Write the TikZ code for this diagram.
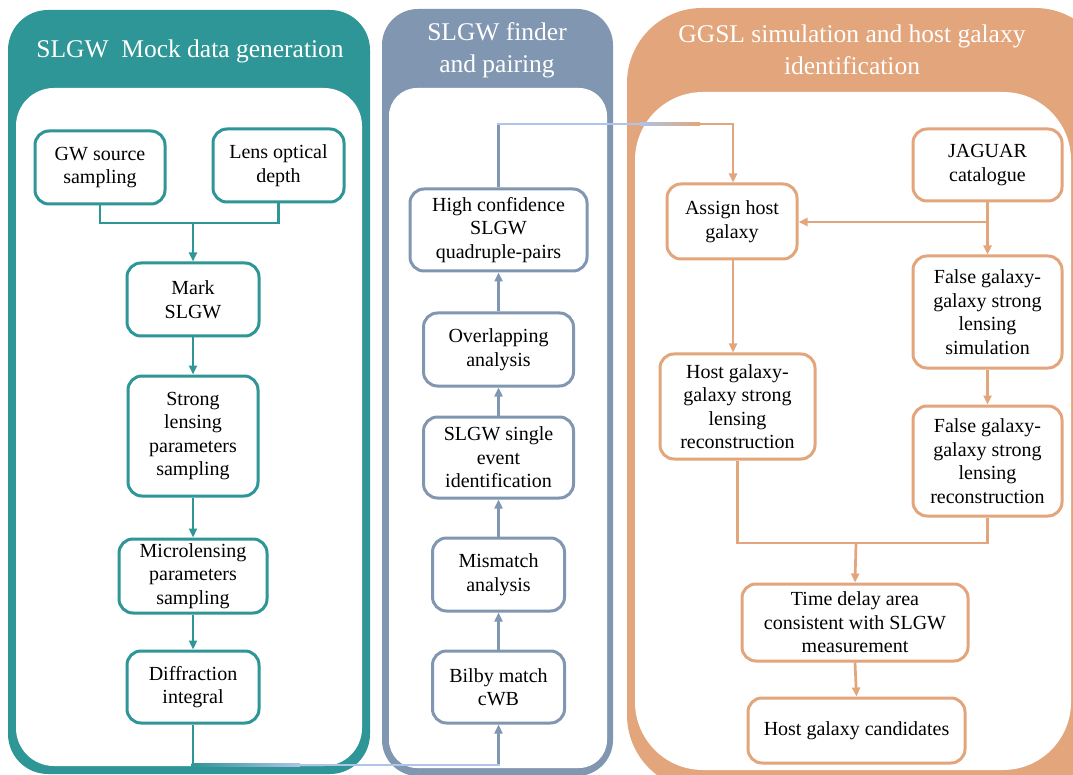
\documentclass[tikz,border=0pt]{standalone}
\usepackage{fontspec}
\setmainfont{Liberation Serif}
\usetikzlibrary{arrows.meta}

\definecolor{tealc}{HTML}{2E9696}
\definecolor{slatec}{HTML}{8197B1}
\definecolor{orangec}{HTML}{E3A57B}
\definecolor{lightblue}{HTML}{AEC4E8}

\tikzset{
  flowbox/.style={rounded corners=14pt, line width=3pt, fill=white, align=center,
    inner sep=0pt, font=\fontsize{20}{23.5}\selectfont},
  tbox/.style={flowbox, draw=tealc},
  sbox/.style={flowbox, draw=slatec},
  obox/.style={flowbox, draw=orangec},
  tip/.style={-{Triangle[length=9pt,width=8pt]}},
  tline/.style={draw=tealc, line width=2.7pt},
  sline/.style={draw=slatec, line width=2.7pt},
  oline/.style={draw=orangec, line width=2.7pt},
  paneltitle/.style={text=white, align=center, font=\fontsize{25.5}{32}\selectfont},
}

\begin{document}
\begin{tikzpicture}[x=1pt, y=-1pt]
\useasboundingbox (0,0) rectangle (1073,775);

% ---- panel frames ----
\fill[tealc, rounded corners=40pt] (8,10) rectangle (370,774);
\fill[white, rounded corners=38pt] (16,88) rectangle (362,766);

\fill[slatec, rounded corners=36pt] (382,9) rectangle (613,776);
\fill[white, rounded corners=28pt] (389,88) rectangle (607,768);

\fill[orangec, rounded corners=75pt] (627,8) rectangle (1110,790);
\fill[white, rounded corners=68pt] (635,92) rectangle (1071,770);

% ---- panel titles ----
\node[paneltitle] (t1) at (190,51) {SLGW\ \ Mock data generation};
\node[paneltitle] (t2) at (497,50) {SLGW finder\\and pairing};
\node[paneltitle] (t3) at (852,50) {GGSL simulation and host galaxy\\identification};

% ---- mock data generation ----
\node[tbox, minimum width=130pt, minimum height=73pt] (gw) at (100,167.5) {GW source\\sampling};
\node[tbox, minimum width=131pt, minimum height=73pt] (lens) at (278.5,165.5) {Lens optical\\depth};
\node[tbox, minimum width=132pt, minimum height=73pt] (mark) at (193,299.5) {Mark\\SLGW};
\node[tbox, minimum width=130pt, minimum height=120pt] (strong) at (193,436) {Strong\\lensing\\parameters\\sampling};
\node[tbox, minimum width=148pt, minimum height=74pt] (micro) at (193,576) {Microlensing\\parameters\\sampling};
\node[tbox, minimum width=132pt, minimum height=72pt] (diff) at (193,687) {Diffraction\\integral};

\coordinate (j1) at (193,223);
\draw[tline] (gw.south) |- (j1) -| (lens.south);
\draw[tline, tip] (j1) -- (mark.north);
\draw[tline, tip] (mark.south) -- (strong.north);
\draw[tline, tip] (strong.south) -- (micro.north);
\draw[tline, tip] (micro.south) -- (diff.north);

% ---- finder and pairing ----
\node[sbox, minimum width=177pt, minimum height=82pt] (hc) at (498.5,230) {High confidence\\SLGW\\quadruple-pairs};
\node[sbox, minimum width=150pt, minimum height=73pt] (ov) at (498.5,349.5) {Overlapping\\analysis};
\node[sbox, minimum width=150pt, minimum height=81pt] (se) at (498.5,457.5) {SLGW single\\event\\identification};
\node[sbox, minimum width=132pt, minimum height=73pt] (mm) at (498.5,574.5) {Mismatch\\analysis};
\node[sbox, minimum width=132pt, minimum height=72pt] (bb) at (498.5,687) {Bilby match\\cWB};

\draw[sline, tip] (bb.north) -- (mm.south);
\draw[sline, tip] (mm.north) -- (se.south);
\draw[sline, tip] (se.north) -- (ov.south);
\draw[sline, tip] (ov.north) -- (hc.south);

% ---- hand-over from mock data to finder ----
\coordinate (d1) at (193,765);
\coordinate (b1) at (498.5,765);
\draw[tline] (diff.south) -- ([yshift=1.35pt]d1);
\shade[left color=tealc, right color=lightblue] ([xshift=-1.35pt,yshift=-1.35pt]d1) rectangle ([yshift=1.35pt]300,765);
\fill[lightblue] ([yshift=-1.35pt]300,765) rectangle ([xshift=1.35pt,yshift=1.35pt]b1);
\draw[sline, tip] ([yshift=1.35pt]b1) -- (bb.south);

% ---- GGSL simulation and host galaxy identification ----
\node[obox, minimum width=130pt, minimum height=75pt] (assign) at (732,221.5) {Assign host\\galaxy};
\node[obox, minimum width=149pt, minimum height=72pt] (jag) at (987.5,165) {JAGUAR\\catalogue};
\node[obox, minimum width=149pt, minimum height=112pt] (fsim) at (987.5,312) {False galaxy-\\galaxy strong\\lensing\\simulation};
\node[obox, minimum width=155pt, minimum height=105pt] (hgg) at (737.5,406.5) {Host galaxy-\\galaxy strong\\lensing\\reconstruction};
\node[obox, minimum width=149pt, minimum height=110pt] (frec) at (987.5,461) {False galaxy-\\galaxy strong\\lensing\\reconstruction};
\node[obox, minimum width=226pt, minimum height=77pt] (td) at (855,622.5) {Time delay area\\consistent with SLGW\\measurement};
\node[obox, minimum width=217pt, minimum height=65pt] (cand) at (856.5,730.5) {Host galaxy candidates};

% ---- hand-over from finder to host galaxy search ----
\coordinate (h1) at (498.5,124);
\coordinate (a1) at (733,124);
\draw[sline] (hc.north) -- ([yshift=-1.35pt]h1);
\fill[lightblue] ([xshift=-1.35pt,yshift=-1.35pt]h1) rectangle ([yshift=1.35pt]640,124);
\shade[left color=lightblue, right color=orangec] ([yshift=-1.35pt]640,124) rectangle ([yshift=1.35pt]700,124);
\fill[orangec] ([yshift=-1.35pt]700,124) rectangle ([xshift=1.35pt,yshift=1.35pt]a1);
\draw[oline, tip] ([yshift=-1.35pt]a1) -- (a1 |- assign.north);

\coordinate (jb) at (987.5,222);
\draw[oline, tip] (jag.south) -- (fsim.north);
\draw[oline, tip] (jb) -- (assign.east |- jb);
\draw[oline, tip] (a1 |- assign.south) -- (a1 |- hgg.north);
\draw[oline, tip] (fsim.south) -- (frec.north);

\coordinate (jm) at (856,543);
\draw[oline] (hgg.south) |- (jm) -| (frec.south);
\draw[oline, tip] (jm) -- (td.north);
\draw[oline, tip] (td.south) -- (cand.north);
\end{tikzpicture}
\end{document}
